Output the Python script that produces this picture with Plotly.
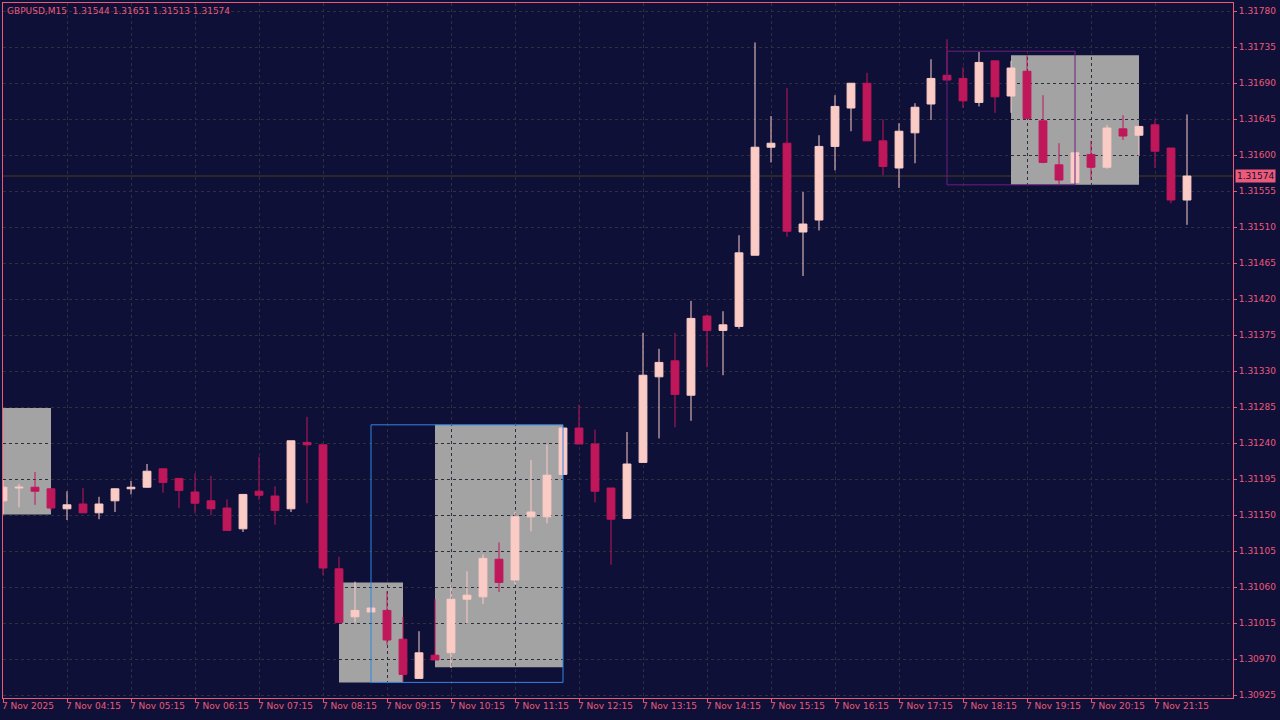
import plotly.graph_objects as go

# ── Data (GBPUSD M15, 7 Nov 2025, from 03:15) ─────────────
opens = [1.31168, 1.31184, 1.31185, 1.31183, 1.31158, 1.31164, 1.31153, 1.31168, 1.31183, 1.31185,
         1.31208, 1.31196, 1.31179, 1.31168, 1.31159, 1.31133, 1.31180, 1.31174, 1.31158, 1.31241,
         1.31238, 1.31083, 1.31023, 1.31029, 1.31031, 1.30995, 1.30946, 1.30975, 1.30978, 1.31045,
         1.31048, 1.31095, 1.31069, 1.31148, 1.31148, 1.31201, 1.31259, 1.31239, 1.31184, 1.31146,
         1.31216, 1.31323, 1.31343, 1.31300, 1.31399, 1.31381, 1.31386, 1.31475, 1.31610, 1.31615,
         1.31504, 1.31519, 1.31611, 1.31659, 1.31690, 1.31618, 1.31584, 1.31628, 1.31664, 1.31700,
         1.31696, 1.31666, 1.31718, 1.31674, 1.31705, 1.31643, 1.31588, 1.31566, 1.31601, 1.31585,
         1.31633, 1.31625, 1.31638, 1.31609, 1.31544]
highs = [1.31194, 1.31189, 1.31204, 1.31183, 1.31180, 1.31184, 1.31173, 1.31184, 1.31193, 1.31214,
         1.31208, 1.31196, 1.31202, 1.31199, 1.31170, 1.31176, 1.31223, 1.31186, 1.31243, 1.31273,
         1.31238, 1.31098, 1.31067, 1.31034, 1.31055, 1.31023, 1.31005, 1.31045, 1.31063, 1.31080,
         1.31101, 1.31116, 1.31154, 1.31219, 1.31238, 1.31259, 1.31288, 1.31257, 1.31184, 1.31254,
         1.31378, 1.31358, 1.31378, 1.31418, 1.31401, 1.31405, 1.31500, 1.31741, 1.31649, 1.31684,
         1.31554, 1.31625, 1.31675, 1.31690, 1.31703, 1.31645, 1.31640, 1.31665, 1.31720, 1.31745,
         1.31710, 1.31729, 1.31718, 1.31718, 1.31725, 1.31675, 1.31615, 1.31603, 1.31618, 1.31638,
         1.31650, 1.31636, 1.31645, 1.31609, 1.31651]
lows = [1.31151, 1.31160, 1.31163, 1.31156, 1.31144, 1.31153, 1.31145, 1.31154, 1.31176, 1.31184,
        1.31178, 1.31159, 1.31153, 1.31150, 1.31131, 1.31129, 1.31169, 1.31138, 1.31154, 1.31165,
        1.31075, 1.31016, 1.31016, 1.31029, 1.30988, 1.30942, 1.30946, 1.30969, 1.30959, 1.31014,
        1.31039, 1.31054, 1.31064, 1.31130, 1.31140, 1.31201, 1.31239, 1.31166, 1.31088, 1.31146,
        1.31216, 1.31246, 1.31260, 1.31268, 1.31335, 1.31325, 1.31383, 1.31475, 1.31591, 1.31498,
        1.31449, 1.31506, 1.31581, 1.31630, 1.31618, 1.31575, 1.31559, 1.31590, 1.31644, 1.31694,
        1.31659, 1.31661, 1.31653, 1.31653, 1.31646, 1.31590, 1.31563, 1.31566, 1.31569, 1.31583,
        1.31619, 1.31599, 1.31584, 1.31540, 1.31513]
closes = [1.31185, 1.31185, 1.31180, 1.31159, 1.31163, 1.31153, 1.31164, 1.31183, 1.31185, 1.31205,
          1.31191, 1.31181, 1.31165, 1.31158, 1.31131, 1.31176, 1.31175, 1.31156, 1.31243, 1.31238,
          1.31084, 1.31016, 1.31031, 1.31034, 1.30994, 1.30951, 1.30978, 1.30969, 1.31045, 1.31050,
          1.31096, 1.31066, 1.31148, 1.31154, 1.31200, 1.31259, 1.31239, 1.31180, 1.31145, 1.31214,
          1.31325, 1.31341, 1.31301, 1.31396, 1.31381, 1.31388, 1.31478, 1.31610, 1.31615, 1.31505,
          1.31514, 1.31611, 1.31661, 1.31690, 1.31618, 1.31586, 1.31630, 1.31660, 1.31696, 1.31694,
          1.31668, 1.31716, 1.31673, 1.31709, 1.31646, 1.31591, 1.31569, 1.31603, 1.31585, 1.31634,
          1.31624, 1.31636, 1.31605, 1.31544, 1.31574]

time_labels = ["7 Nov 2025"] + [f"7 Nov {h:02d}:15" for h in range(4, 22)]
price_ticks = [1.30925 + 0.00045 * i for i in range(20)]
last_price = 1.31574

# zones: (start idx, end idx, top, bottom)
grey_zones = [(-0.5, 3.0, 1.31284, 1.31151), (21.0, 25.0, 1.31066, 1.30941),
              (27.0, 35.0, 1.31263, 1.30960), (63.0, 71.0, 1.31725, 1.31563)]
outline_boxes = [(23.0, 35.0, 1.31263, 1.30941, "#2f86e0"),
                 (59.0, 67.0, 1.31730, 1.31563, "#6b1f7c")]

BG = "#0e1038"
FG = "#ec5a78"
BULL = "#fbcbc6"
BEAR = "#c0175a"
FONT = dict(color=FG, size=9, family="DejaVu Sans")

x = list(range(len(opens)))
fig = go.Figure(go.Candlestick(
    x=x, open=opens, high=highs, low=lows, close=closes,
    increasing=dict(line=dict(color=BULL, width=1), fillcolor=BULL),
    decreasing=dict(line=dict(color=BEAR, width=1), fillcolor=BEAR),
    whiskerwidth=0, showlegend=False, hoverinfo="skip"))

for x0, x1, top, bot in grey_zones:
    fig.add_shape(type="rect", x0=x0, x1=x1, y0=bot, y1=top, fillcolor="#a3a3a3",
                  line_width=0, layer="below")
for x0, x1, top, bot, col in outline_boxes:
    fig.add_shape(type="rect", x0=x0, x1=x1, y0=bot, y1=top, line=dict(color=col, width=1),
                  fillcolor="rgba(0,0,0,0)", layer="above")

fig.add_hline(y=last_price, line=dict(color="#4a3f1e", width=1), layer="below")
fig.add_annotation(x=1, xref="paper", y=last_price, yref="y", text=f"{last_price:.5f}",
                   xanchor="left", showarrow=False, bgcolor=FG, borderpad=1,
                   font=dict(color="#0e1038", size=9, family="DejaVu Sans"), xshift=2)

for i, lab in enumerate(time_labels):
    fig.add_annotation(x=i * 4, xref="x", y=0, yref="paper", text=lab, xanchor="left",
                       yanchor="top", showarrow=False, yshift=-1, xshift=-3, font=FONT)

fig.add_annotation(x=0, xref="paper", y=1, yref="paper", xanchor="left", yanchor="top",
                   text="GBPUSD,M15  1.31544 1.31651 1.31513 1.31574", showarrow=False,
                   xshift=2, yshift=-1, font=FONT)

grid = dict(showgrid=True, gridcolor="#2e2f3c", griddash="3px,3px", gridwidth=1)
fig.update_layout(
    width=1280, height=720, paper_bgcolor=BG, plot_bgcolor=BG,
    margin=dict(l=3, r=47, t=3, b=22, autoexpand=False),
    xaxis=dict(range=[0, 76.875], tickvals=[i * 4 for i in range(len(time_labels))],
               showticklabels=False, ticks="outside", ticklen=3, tickcolor=FG,
               rangeslider=dict(visible=False), zeroline=False,
               showline=True, linecolor=FG, mirror=True, **grid),
    yaxis=dict(range=[1.309215, 1.317903], side="right", tickvals=price_ticks,
               tickformat=".5f", ticks="outside", ticklen=3, tickcolor=FG,
               tickfont=FONT, automargin=False,
               showline=True, linecolor=FG, mirror=True, zeroline=False, **grid),
)

fig.write_html("out.html", config={"displayModeBar": False},
               post_script="document.body.style.margin='0';"
               "document.body.style.background='#0e1038';")
